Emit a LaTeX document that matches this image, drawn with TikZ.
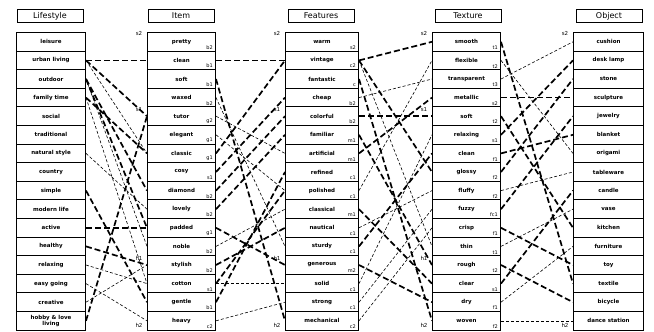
\documentclass[tikz,border=0pt]{standalone}
\usepackage{fontspec}
\setmainfont{DejaVu Sans}
\begin{document}
\begin{tikzpicture}[x=1pt,y=-1pt,
  cell/.style={draw, line width=1pt, fill=white, minimum height=18.6pt,
    inner sep=0pt, font=\fontsize{5.5}{6}\selectfont\bfseries, align=center},
  head/.style={draw, line width=1pt, minimum height=13pt, minimum width=66pt,
    inner sep=0pt, font=\fontsize{8}{9}\selectfont},
  code/.style={font=\fontsize{5}{6}\selectfont, inner sep=0pt},
  axis/.style={font=\fontsize{5.5}{6}\selectfont, inner sep=0pt},
  heavy/.style={line width=1.7pt, dash pattern=on 6pt off 3pt},
  light/.style={line width=0.6pt, dash pattern=on 3pt off 2pt}]
\useasboundingbox (0,0) rectangle (654,332);

% column headers
\node[head] (hL) at (50,16) {Lifestyle};
\node[head] (hI) at (181,16) {Item};
\node[head] (hF) at (321,16) {Features};
\node[head] (hT) at (468,16) {Texture};
\node[head] (hO) at (609,16) {Object};

% column cells
\foreach \w [count=\k from 0] in {leisure, urban living, outdoor, family time,
  social, traditional, natural style, country, simple, modern life, active,
  healthy, relaxing, easy going, creative, {hobby \& love\\living}}
  \node[cell, minimum width=69pt, anchor=north west] (L-\k) at (16,{32+18.6*\k}) {\w};
\foreach \w [count=\k from 0] in {pretty, clean, soft, waxed, tutor, elegant,
  classic, cosy, diamond, lovely, padded, noble, stylish, cotton, gentle, heavy}
  \node[cell, minimum width=68pt, anchor=north west] (I-\k) at (147,{32+18.6*\k}) {\w};
\foreach \w [count=\k from 0] in {warm, vintage, fantastic, cheap, colorful,
  familiar, artificial, refined, polished, classical, nautical, sturdy,
  generous, solid, strong, mechanical}
  \node[cell, minimum width=73pt, anchor=north west] (F-\k) at (285,{32+18.6*\k}) {\w};
\foreach \w [count=\k from 0] in {smooth, flexible, transparent, metallic, soft,
  relaxing, clean, glossy, fluffy, fuzzy, crisp, thin, rough, clear, dry, woven}
  \node[cell, minimum width=68pt, anchor=north west] (T-\k) at (432,{32+18.6*\k}) {\w};
\foreach \w [count=\k from 0] in {cushion, desk lamp, stone, sculpture, jewelry,
  blanket, origami, tableware, candle, vase, kitchen, furniture, toy, textile,
  bicycle, dance station}
  \node[cell, minimum width=70pt, anchor=north west] (O-\k) at (573,{32+18.6*\k}) {\w};

% small codes in the cells
\foreach \c [count=\k from 0] in {b2,b1,b1,b2,g2,g1,g1,s1,b2,b2,g1,b2,b2,s1,b1,c2}
  \node[code, anchor=south east] at ([xshift=-3pt,yshift=2pt]I-\k.south east) {\c};
\foreach \c [count=\k from 0] in {s2,c2,c,b2,b2,m1,m1,c1,c1,m1,c1,c1,m2,c1,c1,c2}
  \node[code, anchor=south east] at ([xshift=-3pt,yshift=2pt]F-\k.south east) {\c};
\foreach \c [count=\k from 0] in {t1,t2,t3,s2,t2,s1,f1,f2,f2,fc1,f1,t1,t2,s1,f1,f2}
  \node[code, anchor=south east] at ([xshift=-3pt,yshift=2pt]T-\k.south east) {\c};

% axis marks
\foreach \x in {139,277,424} {
  \node[axis] at (\x,33) {s2};
  \node[axis] at (\x,110) {s1};
  \node[axis] at (\x,258) {h1};
  \node[axis] at (\x,325) {h2};
}
\node[axis] at (565,33) {s2};
\node[axis] at (565,325) {h2};

% Lifestyle -> Item
\foreach \a/\b in {1/1,1/4,2/8,2/10,8/14,10/10,15/4,11/12,3/6}
  \draw[heavy] (L-\a.east) -- (I-\b.west);
\foreach \a/\b in {1/6,2/11,3/13,12/13,13/15,6/9,14/12}
  \draw[light] (L-\a.east) -- (I-\b.west);

% Item -> Features
\foreach \a/\b in {1/1,6/1,7/3,8/4,10/12,12/10,14/7,2/15,9/5,13/8}
  \draw[heavy] (I-\a.east) -- (F-\b.west);
\foreach \a/\b in {5/8,11/9,13/13,15/14,3/11,4/6}
  \draw[light] (I-\a.east) -- (F-\b.west);

% Features -> Texture
\foreach \a/\b in {1/0,1/7,4/4,6/3,9/13,11/6,12/14,5/12,2/15}
  \draw[heavy] (F-\a.east) -- (T-\b.west);
\foreach \a/\b in {1/11,3/2,8/1,10/8,13/5,14/9,15/10}
  \draw[light] (F-\a.east) -- (T-\b.west);

% Texture -> Object
\foreach \a/\b in {0/13,3/3,4/10,6/5,7/2,9/4,10/12,12/14,13/8,5/1}
  \draw[heavy] (T-\a.east) -- (O-\b.west);
\foreach \a/\b in {1/6,2/0,8/7,11/9,14/11,15/15}
  \draw[light] (T-\a.east) -- (O-\b.west);
\end{tikzpicture}
\end{document}
